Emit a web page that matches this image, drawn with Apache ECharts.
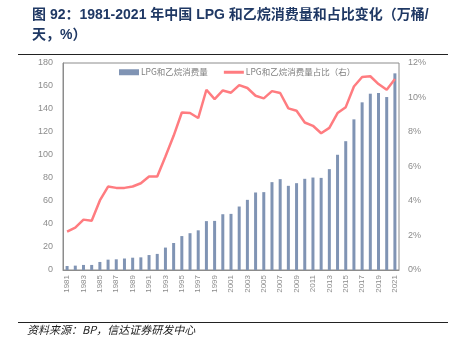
<!DOCTYPE html>
<html>
<head>
<meta charset="utf-8">
<script src="https://cdn.jsdelivr.net/npm/echarts@6/dist/echarts.min.js"></script>
<style>
html,body{margin:0;padding:0;background:#fff;}
#chart{width:458px;height:340px;}
</style>
</head>
<body>
<div id="chart"></div>
<script>
// Years 1981–2021
const years = [];
for (let y = 1981; y <= 2021; y++) years.push(String(y));

// LPG and ethane consumption (10k barrels/day)
const consumption = [
  3.5, 3.8, 4.4, 4.4, 7.0, 9.0, 9.3, 10.0, 10.7, 11.0,
  13.0, 14.0, 19.5, 23.5, 29.5, 32.0, 34.5, 42.5, 42.7, 48.5,
  48.8, 55.2, 61.0, 67.4, 67.7, 76.4, 79.0, 73.2, 75.5, 79.3,
  80.4, 80.1, 87.7, 100.2, 112.0, 131.0, 145.8, 153.3, 153.9, 150.4,
  171.0
];

// Share of total consumption (%)
const share = [
  2.23, 2.46, 2.92, 2.85, 4.03, 4.84, 4.76, 4.76, 4.84, 5.03,
  5.42, 5.42, 6.58, 7.78, 9.13, 9.10, 8.81, 10.45, 9.91, 10.41,
  10.28, 10.72, 10.55, 10.10, 9.95, 10.37, 10.26, 9.37, 9.23, 8.55,
  8.36, 7.93, 8.24, 9.10, 9.44, 10.64, 11.19, 11.23, 10.78, 10.45,
  11.07
];

const seriesNames = ['LPG和乙烷消费量', 'LPG和乙烷消费量占比（右）'];
const titleText = '图 92：1981-2021 年中国 LPG 和乙烷消费量和占比变化（万桶/\n天，%）';
const sourceText = '资料来源：BP，信达证券研发中心';

const chart = echarts.init(document.getElementById('chart'), null, {renderer: 'canvas'});
const labelGray = '#8c8c8c';
const fontFam = '"Liberation Sans","Noto Sans CJK SC",sans-serif';

chart.setOption({
  animation: false,
  backgroundColor: '#fff',
  textStyle: {fontFamily: fontFam},
  title: {
    text: titleText,
    left: 27,
    top: 0,
    textStyle: {
      color: '#1f3864',
      fontSize: 14,
      fontWeight: 'bold',
      lineHeight: 20,
      fontFamily: '"Liberation Sans","Noto Sans CJK SC",sans-serif'
    }
  },
  graphic: [
    {type: 'line', shape: {x1: 18, y1: 54.5, x2: 448, y2: 54.5}, style: {stroke: '#222', lineWidth: 1}},
    {type: 'line', shape: {x1: 18, y1: 322.5, x2: 448, y2: 322.5}, style: {stroke: '#222', lineWidth: 1}},
    {type: 'text', left: 27, top: 324, style: {text: sourceText, fill: '#222', font: 'italic 11px "Noto Sans CJK SC", sans-serif'}}
  ],
  legend: {
    top: 63,
    left: 114,
    itemGap: 16,
    itemWidth: 20,
    itemHeight: 6,
    textStyle: {color: '#7f7f7f', fontSize: 8.5, fontFamily: '"Noto Sans CJK SC",sans-serif', padding: [0, 0, 0, -3]},
    data: [
      {name: seriesNames[0], icon: 'rect'},
      {name: seriesNames[1], icon: 'path://M0,0 L20,0 L20,3 L0,3 Z', itemStyle: {color: '#ff7c80'}}
    ]
  },
  grid: {
    left: 63, right: 59, top: 63, bottom: 70,
    show: true, borderColor: '#8c8c8c', borderWidth: 1
  },
  xAxis: {
    type: 'category',
    data: years,
    axisLine: {lineStyle: {color: '#8c8c8c'}},
    axisTick: {show: false},
    axisLabel: {
      rotate: 90,
      interval: 1,
      color: labelGray,
      fontSize: 8,
      margin: 5
    }
  },
  yAxis: [
    {
      type: 'value', min: 0, max: 180, interval: 20,
      axisLine: {show: true, lineStyle: {color: '#8c8c8c'}},
      axisTick: {show: false},
      splitLine: {show: false},
      axisLabel: {color: labelGray, fontSize: 9, margin: 10}
    },
    {
      type: 'value', min: 0, max: 12, interval: 2,
      axisLine: {show: false},
      axisTick: {show: false},
      splitLine: {show: false},
      axisLabel: {color: labelGray, fontSize: 9, margin: 9, formatter: v => v + '%'}
    }
  ],
  series: [
    {
      name: seriesNames[0],
      type: 'bar',
      data: consumption,
      barWidth: 3,
      itemStyle: {color: '#8094b4'}
    },
    {
      name: seriesNames[1],
      type: 'line',
      yAxisIndex: 1,
      data: share,
      symbol: 'none',
      lineStyle: {color: '#ff7c80', width: 2.5},
      itemStyle: {color: '#ff7c80'}
    }
  ]
});
</script>
</body>
</html>
